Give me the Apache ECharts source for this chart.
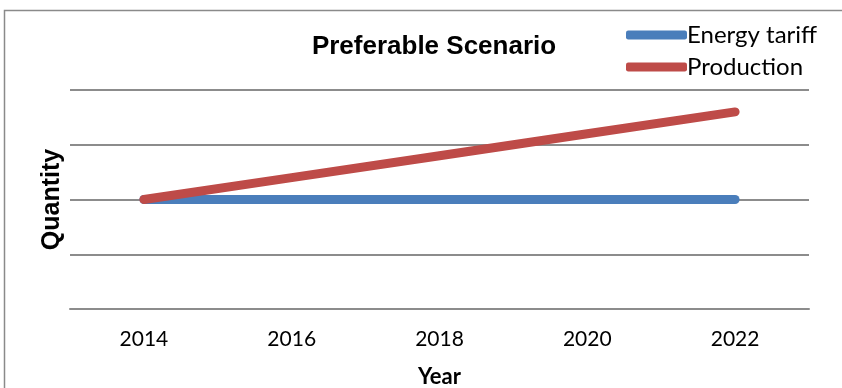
<!DOCTYPE html>
<html>
<head>
<meta charset="utf-8">
<script src="https://cdn.jsdelivr.net/npm/echarts@6/dist/echarts.min.js"></script>
<style>
  html, body { margin: 0; padding: 0; background: #fff; overflow: hidden; }
  #chart { width: 842px; height: 388px; }
</style>
</head>
<body>
<div id="chart"></div>
<script>
// Years on the category axis
const years = ['2014', '2016', '2018', '2020', '2022'];
// Series values (unitless quantity)
const energyTariff = [2, 2, 2, 2, 2];
const production = [2, 2.4, 2.8, 3.2, 3.6];

const chart = echarts.init(document.getElementById('chart'), null, {
  renderer: 'canvas', width: 842, height: 388
});

const bodyFont = 'Lato, "Open Sans", sans-serif';
const headFont = '"Liberation Sans", Arial, sans-serif';

chart.setOption({
  animation: false,
  backgroundColor: '#ffffff',
  graphic: [{
    type: 'rect',
    shape: { x: 4.5, y: 10.5, width: 860, height: 400 },
    style: { fill: 'none', stroke: '#8a8a8a', lineWidth: 1.5 },
    silent: true
  }],
  title: {
    text: 'Preferable Scenario',
    left: 429,
    textAlign: 'center',
    top: 29,
    textStyle: { fontFamily: headFont, fontWeight: 'bold', fontSize: 26, color: '#000' }
  },
  legend: {
    orient: 'vertical',
    left: 621,
    top: 18,
    itemWidth: 61,
    itemHeight: 9,
    itemGap: 8,
    icon: 'roundRect',
    textStyle: { fontFamily: bodyFont, fontSize: 24, lineHeight: 24, color: '#000', padding: [0, 0, 0, -5] },
    data: ['Energy tariff', 'Production']
  },
  // keep the plot area fixed; axis names may sit near the bottom edge
  grid: { left: 70, width: 739, top: 90, height: 219, containLabel: false, outerBoundsMode: 'none' },
  xAxis: {
    type: 'category',
    data: years,
    boundaryGap: true,
    name: 'Year',
    nameLocation: 'middle',
    nameGap: 57,
    nameTextStyle: { fontFamily: bodyFont, fontWeight: 'bold', fontSize: 22, color: '#000' },
    axisLine: { show: true, lineStyle: { color: '#8c8c8c', width: 2 } },
    axisTick: { show: false },
    axisLabel: { margin: 20, fontFamily: bodyFont, fontSize: 21, color: '#000' }
  },
  yAxis: {
    type: 'value',
    min: 0,
    max: 4,
    interval: 1,
    name: 'Quantity',
    nameLocation: 'middle',
    nameGap: 5,
    nameTextStyle: { fontFamily: headFont, fontWeight: 'bold', fontSize: 25, color: '#000' },
    axisLine: { show: false },
    axisTick: { show: false },
    axisLabel: { show: false },
    splitLine: { show: true, lineStyle: { color: '#8c8c8c', width: 2 } }
  },
  series: [
    {
      name: 'Energy tariff',
      type: 'line',
      data: energyTariff,
      showSymbol: false,
      symbol: 'none',
      color: '#4a7ebb',
      lineStyle: { width: 9, color: '#4a7ebb', cap: 'round', join: 'round' },
      z: 2
    },
    {
      name: 'Production',
      type: 'line',
      data: production,
      showSymbol: false,
      symbol: 'none',
      color: '#be4b48',
      lineStyle: { width: 9, color: '#be4b48', cap: 'round', join: 'round' },
      z: 3
    }
  ]
});
</script>
</body>
</html>
